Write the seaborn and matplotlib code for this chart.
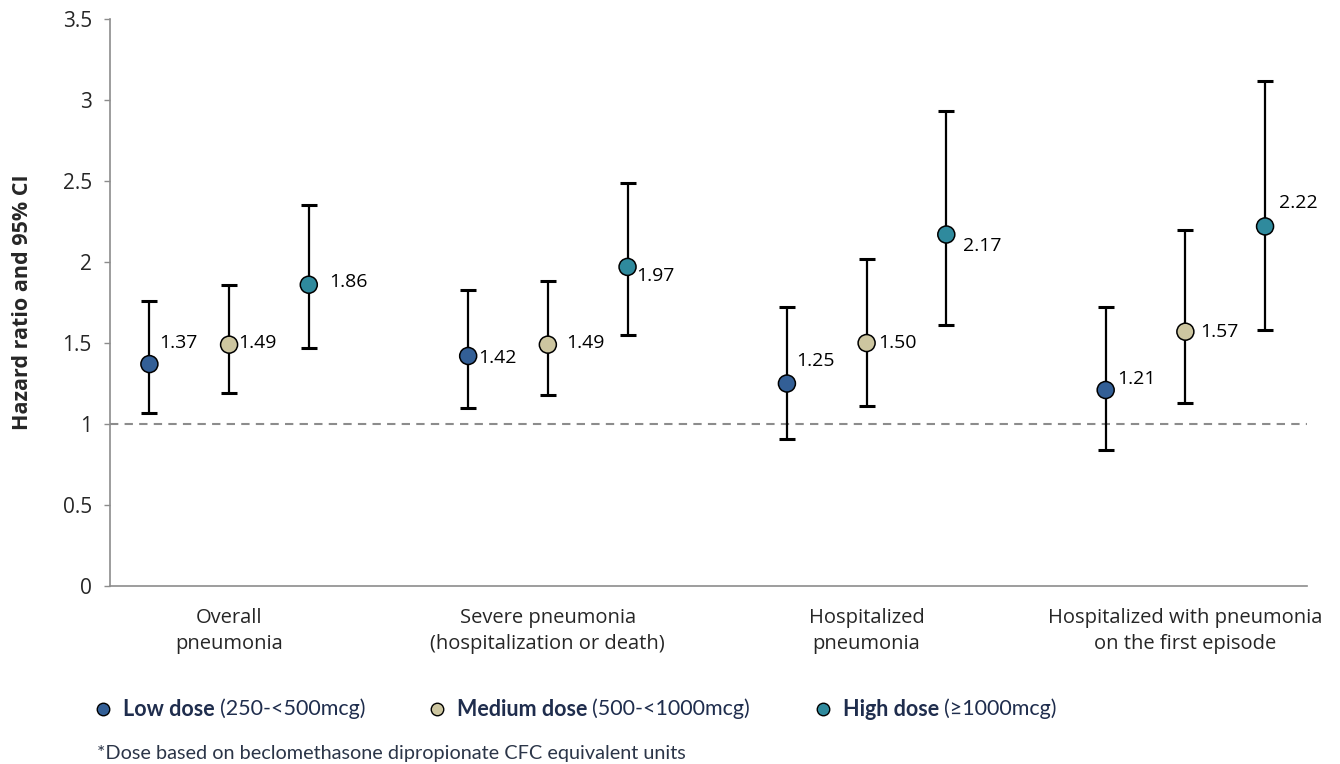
import numpy as np
import pandas as pd
import matplotlib
matplotlib.use('Agg')
import matplotlib.pyplot as plt
import seaborn as sns

# data
outcomes = ['Overall\npneumonia', 'Severe pneumonia\n(hospitalization or death)',
            'Hospitalized\npneumonia', 'Hospitalized with pneumonia\non the first episode']
doses = ['Low dose', 'Medium dose', 'High dose']
dose_ranges = ['(250-<500mcg)', '(500-<1000mcg)', '(\u22651000mcg)']

hr_low = [1.37, 1.42, 1.25, 1.21]
hr_med = [1.49, 1.49, 1.50, 1.57]
hr_high = [1.86, 1.97, 2.17, 2.22]
lo_low = [1.07, 1.10, 0.91, 0.84]
lo_med = [1.19, 1.18, 1.11, 1.13]
lo_high = [1.47, 1.55, 1.61, 1.58]
hi_low = [1.76, 1.83, 1.72, 1.72]
hi_med = [1.86, 1.88, 2.02, 2.20]
hi_high = [2.35, 2.49, 2.93, 3.12]

# label offsets (points) per dose, per outcome
lab_off = {
    'Low dose': [(7, 15), (7, -1.5), (7, 16), (8, 8)],
    'Medium dose': [(6.5, 1), (13, 1.5), (8, 0), (11, -0.5)],
    'High dose': [(15, 2), (6.5, -6.5), (12, -8.5), (10, 17)],
}

colors = {'Low dose': '#335F96', 'Medium dose': '#CDC6A0', 'High dose': '#2F8A9D'}
shift = {'Low dose': -0.25, 'Medium dose': 0.0, 'High dose': 0.25}

rows = []
for d, hr, lo, hi in zip(doses, [hr_low, hr_med, hr_high], [lo_low, lo_med, lo_high],
                         [hi_low, hi_med, hi_high]):
    for i in range(len(outcomes)):
        rows.append({'dose': d, 'outcome': i, 'x': i + shift[d], 'hr': hr[i], 'lo': lo[i], 'hi': hi[i]})
df = pd.DataFrame(rows)

sns.set_style('white')
plt.rcParams['font.family'] = ['Open Sans', 'DejaVu Sans']

fig = plt.figure(figsize=(13.4, 7.64), dpi=100)
ax = fig.add_axes([0.082, 0.233, 0.893, 0.742])

ax.axhline(1, color='#8C8C8C', lw=1.5, ls=(0, (4, 3)), zorder=1)
ax.errorbar(df['x'], df['hr'], yerr=[df['hr'] - df['lo'], df['hi'] - df['hr']],
            fmt='none', ecolor='black', elinewidth=1.6, capsize=6, capthick=2.2, zorder=2)
sns.scatterplot(data=df, x='x', y='hr', hue='dose', palette=colors, s=150,
                edgecolor='black', linewidth=1.1, legend=False, zorder=3, ax=ax)

for _, r in df.iterrows():
    dx, dy = lab_off[r['dose']][r['outcome']]
    ax.annotate(f"{r['hr']:.2f}", (r['x'], r['hr']), xytext=(dx, dy), textcoords='offset points',
                ha='left', va='center', fontsize=14, color='black', zorder=4)

ax.set_xlim(-0.374, 3.38)
ax.set_ylim(0, 3.5)
ax.set_yticks([0, 0.5, 1, 1.5, 2, 2.5, 3, 3.5])
ax.set_yticklabels(['0', '0.5', '1', '1.5', '2', '2.5', '3', '3.5'])
ax.set_xticks(range(len(outcomes)))
ax.set_xticklabels(outcomes, fontsize=14.5, linespacing=1.4)
ax.tick_params(axis='x', length=0, pad=16)
ax.tick_params(axis='y', labelsize=15, length=4, width=1, color='#8C8C8C', pad=9, left=True)
ax.set_xlabel('')
ax.set_ylabel('Hazard ratio and 95% CI', fontsize=15.5, fontweight='bold', labelpad=21.5)
for s in ['top', 'right']:
    ax.spines[s].set_visible(False)
for s in ['left', 'bottom']:
    ax.spines[s].set_color('#8C8C8C')
    ax.spines[s].set_linewidth(1.2)

# legend with bold/regular parts
fig.canvas.draw()
rend = fig.canvas.get_renderer()
leg_x = [103 / 1340, 437 / 1340, 823 / 1340]
leg_y = 1 - 709 / 764
lfam = ['Lato', 'DejaVu Sans']
for d, rng, x0 in zip(doses, dose_ranges, leg_x):
    fig.lines.append(plt.Line2D([x0], [leg_y], transform=fig.transFigure, marker='o', ms=9,
                                mfc=colors[d], mec='black', mew=1.0, ls=''))
    t1 = fig.text(x0 + 20 / 1340, leg_y, d, fontsize=15.5, fontweight='bold', color='#1F2D4D',
                  family=lfam, va='center', ha='left')
    w = t1.get_window_extent(rend).width
    fig.text(x0 + (20 + w + 5) / 1340, leg_y, rng, fontsize=15.5, color='#1F2D4D',
             family=lfam, va='center', ha='left')

fig.text(97 / 1340, 1 - 753 / 764, '*Dose based on beclomethasone dipropionate CFC equivalent units',
         fontsize=14.3, color='#2B3548', family=lfam, va='center', ha='left')

fig.savefig('out.png', dpi=100)
